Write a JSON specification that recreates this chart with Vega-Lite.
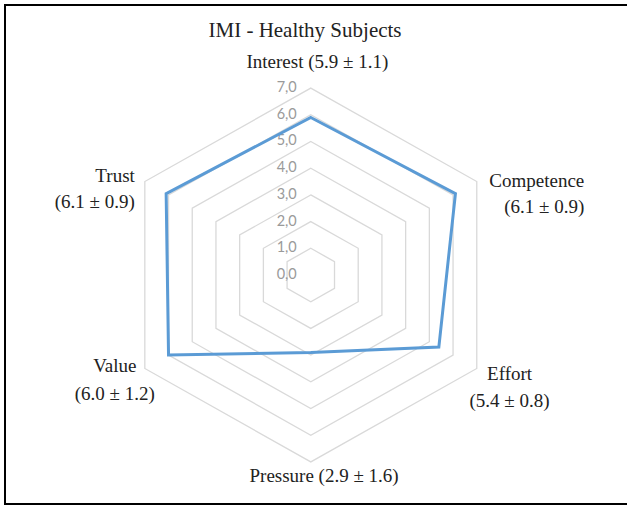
{
  "$schema": "https://vega.github.io/schema/vega-lite/v6.json",
  "width": 622,
  "height": 499,
  "autosize": {"type": "none"},
  "padding": {"left": 5, "top": 5, "right": 0, "bottom": 1},
  "background": "white",
  "config": {"view": {"stroke": null}},
  "title": {
    "text": "IMI - Healthy Subjects",
    "font": "Liberation Serif",
    "fontSize": 21,
    "fontWeight": "normal",
    "color": "#222222",
    "anchor": "middle",
    "frame": "group",
    "baseline": "alphabetic",
    "offset": 0,
    "dx": -11,
    "dy": 54
  },
  "datasets": {
    "scores": [
      {"dimension": "Interest", "k": 0, "score": 5.9, "label": "Interest (5.9 ± 1.1)"},
      {"dimension": "Competence", "k": 1, "score": 6.1, "label": "Competence\n(6.1 ± 0.9)"},
      {"dimension": "Effort", "k": 2, "score": 5.4, "label": "Effort\n(5.4 ± 0.8)"},
      {"dimension": "Pressure", "k": 3, "score": 2.9, "label": "Pressure (2.9 ± 1.6)"},
      {"dimension": "Value", "k": 4, "score": 6.0, "label": "Value\n(6.0 ± 1.2)"},
      {"dimension": "Trust", "k": 5, "score": 6.1, "label": "Trust\n(6.1 ± 0.9)"}
    ],
    "levels": [
      {"level": 0, "k": [0, 1, 2, 3, 4, 5]},
      {"level": 1, "k": [0, 1, 2, 3, 4, 5]},
      {"level": 2, "k": [0, 1, 2, 3, 4, 5]},
      {"level": 3, "k": [0, 1, 2, 3, 4, 5]},
      {"level": 4, "k": [0, 1, 2, 3, 4, 5]},
      {"level": 5, "k": [0, 1, 2, 3, 4, 5]},
      {"level": 6, "k": [0, 1, 2, 3, 4, 5]},
      {"level": 7, "k": [0, 1, 2, 3, 4, 5]}
    ]
  },
  "layer": [
    {
      "encoding": {
        "x": {"field": "px", "type": "quantitative", "scale": {"domain": [-11.169, 11.549], "nice": false, "zero": false}, "axis": null},
        "y": {"field": "py", "type": "quantitative", "scale": {"domain": [-8.577, 10.112], "nice": false, "zero": false}, "axis": null}
      },
      "layer": [
        {
          "data": {"name": "levels"},
          "transform": [
            {"filter": "datum.level > 0"},
            {"flatten": ["k"]},
            {"calculate": "PI/2 - datum.k*PI/3", "as": "ang"},
            {"calculate": "datum.level*cos(datum.ang)", "as": "px"},
            {"calculate": "datum.level*sin(datum.ang)", "as": "py"}
          ],
          "mark": {"type": "line", "interpolate": "linear-closed", "stroke": "#d9d9d9", "strokeWidth": 1.3},
          "encoding": {
            "detail": {"field": "level", "type": "nominal"},
            "order": {"field": "k", "type": "quantitative"}
          }
        },
        {
          "data": {"name": "levels"},
          "transform": [
            {"calculate": "0", "as": "px"},
            {"calculate": "datum.level", "as": "py"},
            {"calculate": "replace(format(datum.level, '.1f'), '.', ',')", "as": "lab"}
          ],
          "mark": {"type": "text", "align": "right", "baseline": "middle", "dx": -14, "font": "Lato", "fontSize": 14.5, "color": "#9a9a9a"},
          "encoding": {"text": {"field": "lab", "type": "nominal"}}
        },
        {
          "data": {"name": "scores"},
          "transform": [
            {"calculate": "PI/2 - datum.k*PI/3", "as": "ang"},
            {"calculate": "datum.score*cos(datum.ang)", "as": "px"},
            {"calculate": "datum.score*sin(datum.ang)", "as": "py"}
          ],
          "mark": {"type": "line", "interpolate": "linear-closed", "stroke": "#5b9bd5", "strokeWidth": 3},
          "encoding": {"order": {"field": "k", "type": "quantitative"}}
        },
        {
          "data": {"name": "scores"},
          "transform": [
            {"filter": "datum.dimension === 'Interest'"},
            {"calculate": "PI/2 - datum.k*PI/3", "as": "ang"},
            {"calculate": "7*cos(datum.ang)", "as": "px"},
            {"calculate": "7*sin(datum.ang)", "as": "py"}
          ],
          "mark": {"type": "text", "align": "center", "baseline": "alphabetic", "dx": 6.6, "dy": -20, "lineBreak": "\n", "font": "Liberation Serif", "fontSize": 19, "color": "#222222"},
          "encoding": {"text": {"field": "label", "type": "nominal"}}
        },
        {
          "data": {"name": "scores"},
          "transform": [
            {"filter": "datum.dimension === 'Competence'"},
            {"calculate": "PI/2 - datum.k*PI/3", "as": "ang"},
            {"calculate": "7*cos(datum.ang)", "as": "px"},
            {"calculate": "7*sin(datum.ang)", "as": "py"}
          ],
          "mark": {"type": "text", "align": "right", "baseline": "alphabetic", "dx": 107.5, "dy": 5.3, "lineHeight": 26.5, "lineBreak": "\n", "font": "Liberation Serif", "fontSize": 19, "color": "#222222"},
          "encoding": {"text": {"field": "label", "type": "nominal"}}
        },
        {
          "data": {"name": "scores"},
          "transform": [
            {"filter": "datum.dimension === 'Effort'"},
            {"calculate": "PI/2 - datum.k*PI/3", "as": "ang"},
            {"calculate": "7*cos(datum.ang)", "as": "px"},
            {"calculate": "7*sin(datum.ang)", "as": "py"}
          ],
          "mark": {"type": "text", "align": "center", "baseline": "alphabetic", "dx": 32.8, "dy": 11.7, "lineHeight": 27, "lineBreak": "\n", "font": "Liberation Serif", "fontSize": 19, "color": "#222222"},
          "encoding": {"text": {"field": "label", "type": "nominal"}}
        },
        {
          "data": {"name": "scores"},
          "transform": [
            {"filter": "datum.dimension === 'Pressure'"},
            {"calculate": "PI/2 - datum.k*PI/3", "as": "ang"},
            {"calculate": "7*cos(datum.ang)", "as": "px"},
            {"calculate": "7*sin(datum.ang)", "as": "py"}
          ],
          "mark": {"type": "text", "align": "center", "baseline": "alphabetic", "dx": 13.3, "dy": 20, "lineBreak": "\n", "font": "Liberation Serif", "fontSize": 19, "color": "#222222"},
          "encoding": {"text": {"field": "label", "type": "nominal"}}
        },
        {
          "data": {"name": "scores"},
          "transform": [
            {"filter": "datum.dimension === 'Value'"},
            {"calculate": "PI/2 - datum.k*PI/3", "as": "ang"},
            {"calculate": "7*cos(datum.ang)", "as": "px"},
            {"calculate": "7*sin(datum.ang)", "as": "py"}
          ],
          "mark": {"type": "text", "align": "center", "baseline": "alphabetic", "dx": -30, "dy": 3.4, "lineHeight": 28, "lineBreak": "\n", "font": "Liberation Serif", "fontSize": 19, "color": "#222222"},
          "encoding": {"text": {"field": "label", "type": "nominal"}}
        },
        {
          "data": {"name": "scores"},
          "transform": [
            {"filter": "datum.dimension === 'Trust'"},
            {"calculate": "PI/2 - datum.k*PI/3", "as": "ang"},
            {"calculate": "7*cos(datum.ang)", "as": "px"},
            {"calculate": "7*sin(datum.ang)", "as": "py"}
          ],
          "mark": {"type": "text", "align": "right", "baseline": "alphabetic", "dx": -10, "dy": 0.3, "lineHeight": 26.5, "lineBreak": "\n", "font": "Liberation Serif", "fontSize": 19, "color": "#222222"},
          "encoding": {"text": {"field": "label", "type": "nominal"}}
        }
      ]
    },
    {
      "data": {"values": [{}]},
      "mark": {"type": "rule", "stroke": "black", "strokeWidth": 2, "strokeCap": "square"},
      "encoding": {"y": {"datum": 10.112, "type": "quantitative", "axis": null}}
    },
    {
      "data": {"values": [{}]},
      "mark": {"type": "rule", "stroke": "black", "strokeWidth": 2, "strokeCap": "square"},
      "encoding": {"y": {"datum": -8.577, "type": "quantitative", "axis": null}}
    },
    {
      "data": {"values": [{}]},
      "mark": {"type": "rule", "stroke": "black", "strokeWidth": 2, "strokeCap": "square"},
      "encoding": {"x": {"datum": -11.169, "type": "quantitative", "axis": null}}
    }
  ]
}
